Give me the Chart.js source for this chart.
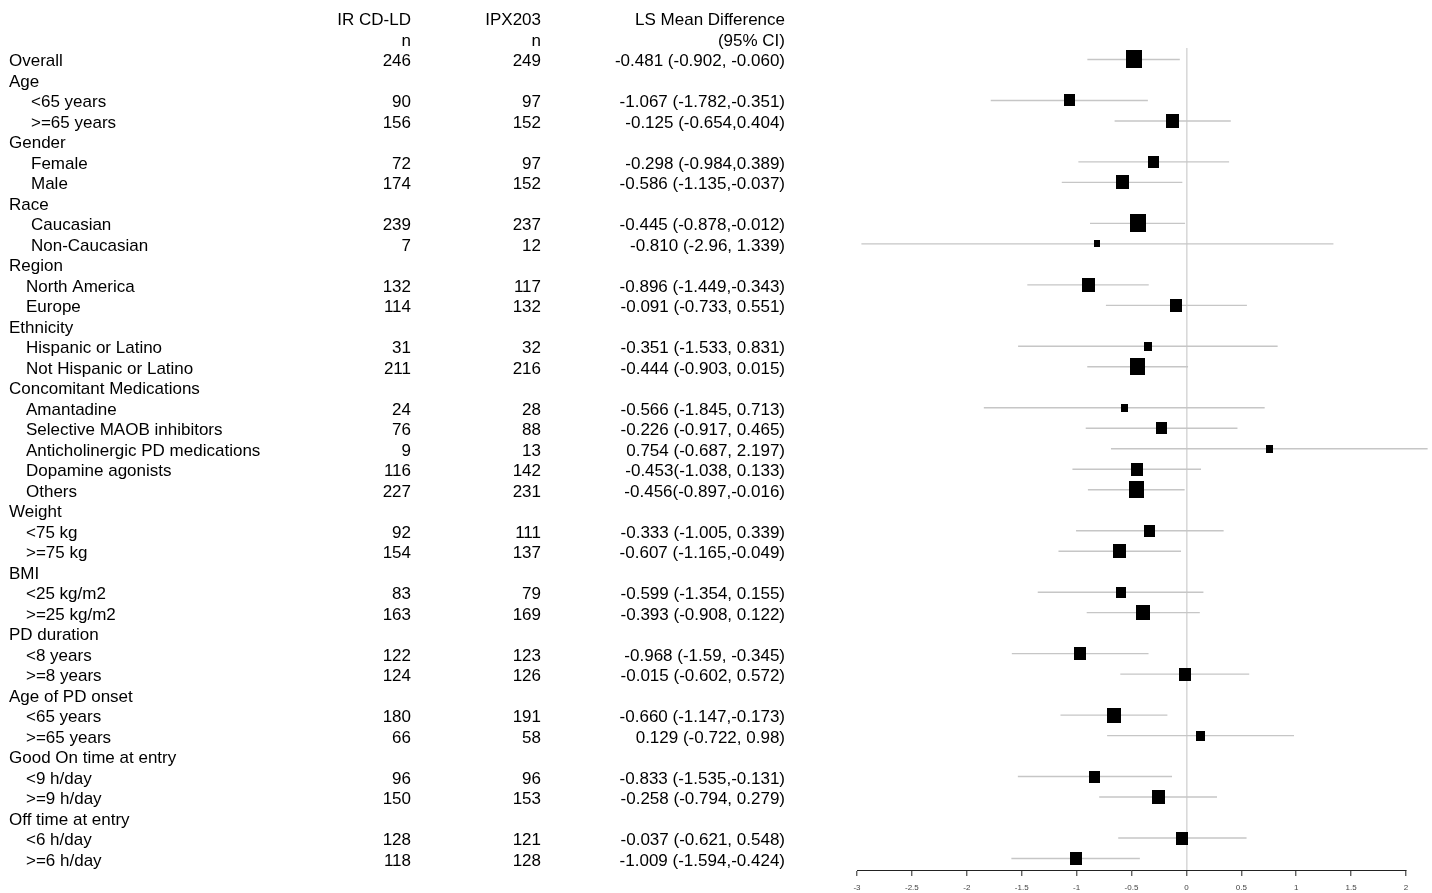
<!DOCTYPE html>
<html>
<head>
<meta charset="utf-8">
<title>LS Mean Difference by Subgroup</title>
<script src="https://cdn.jsdelivr.net/npm/chart.js@4/dist/chart.umd.min.js"></script>
<style>
  html, body { margin: 0; padding: 0; background: #fff; }
  #wrap { position: relative; width: 1432px; height: 893px; }
  canvas { display: block; }
</style>
</head>
<body>
<div id="wrap"><canvas id="forest" width="1432" height="893"></canvas></div>
<script>
// Row labels: group headings carry no counts (null) in the columns below.
const rowLabels = [
  'Overall', 'Age', '<65 years', '>=65 years', 'Gender', 'Female', 'Male',
  'Race', 'Caucasian', 'Non-Caucasian', 'Region', 'North America', 'Europe',
  'Ethnicity', 'Hispanic or Latino', 'Not Hispanic or Latino',
  'Concomitant Medications', 'Amantadine', 'Selective MAOB inhibitors',
  'Anticholinergic PD medications', 'Dopamine agonists', 'Others',
  'Weight', '<75 kg', '>=75 kg', 'BMI', '<25 kg/m2', '>=25 kg/m2',
  'PD duration', '<8 years', '>=8 years', 'Age of PD onset', '<65 years', '>=65 years',
  'Good On time at entry', '<9 h/day', '>=9 h/day', 'Off time at entry', '<6 h/day', '>=6 h/day'
];

// Patients per arm
const nIRCDLD = [246, null, 90, 156, null, 72, 174, null, 239, 7, null, 132, 114,
  null, 31, 211, null, 24, 76, 9, 116, 227, null, 92, 154, null, 83, 163,
  null, 122, 124, null, 180, 66, null, 96, 150, null, 128, 118];
const nIPX203 = [249, null, 97, 152, null, 97, 152, null, 237, 12, null, 117, 132,
  null, 32, 216, null, 28, 88, 13, 142, 231, null, 111, 137, null, 79, 169,
  null, 123, 126, null, 191, 58, null, 96, 153, null, 121, 128];

// LS mean difference and 95% confidence limits
const lsMeanDiff = [-0.481, null, -1.067, -0.125, null, -0.298, -0.586, null, -0.445, -0.810, null, -0.896, -0.091,
  null, -0.351, -0.444, null, -0.566, -0.226, 0.754, -0.453, -0.456, null, -0.333, -0.607, null, -0.599, -0.393,
  null, -0.968, -0.015, null, -0.660, 0.129, null, -0.833, -0.258, null, -0.037, -1.009];
const lowerCI = [-0.902, null, -1.782, -0.654, null, -0.984, -1.135, null, -0.878, -2.96, null, -1.449, -0.733,
  null, -1.533, -0.903, null, -1.845, -0.917, -0.687, -1.038, -0.897, null, -1.005, -1.165, null, -1.354, -0.908,
  null, -1.59, -0.602, null, -1.147, -0.722, null, -1.535, -0.794, null, -0.621, -1.594];
const upperCI = [-0.060, null, -0.351, 0.404, null, 0.389, -0.037, null, -0.012, 1.339, null, -0.343, 0.551,
  null, 0.831, 0.015, null, 0.713, 0.465, 2.197, 0.133, -0.016, null, 0.339, -0.049, null, 0.155, 0.122,
  null, -0.345, 0.572, null, -0.173, 0.98, null, -0.131, 0.279, null, 0.548, -0.424];

// Printed estimate column
const ciText = [
  '-0.481 (-0.902, -0.060)', '', '-1.067 (-1.782,-0.351)', '-0.125 (-0.654,0.404)', '',
  '-0.298 (-0.984,0.389)', '-0.586 (-1.135,-0.037)', '', '-0.445 (-0.878,-0.012)', '-0.810 (-2.96, 1.339)', '',
  '-0.896 (-1.449,-0.343)', '-0.091 (-0.733, 0.551)', '', '-0.351 (-1.533, 0.831)', '-0.444 (-0.903, 0.015)', '',
  '-0.566 (-1.845, 0.713)', '-0.226 (-0.917, 0.465)', '0.754 (-0.687, 2.197)', '-0.453(-1.038, 0.133)',
  '-0.456(-0.897,-0.016)', '', '-0.333 (-1.005, 0.339)', '-0.607 (-1.165,-0.049)', '',
  '-0.599 (-1.354, 0.155)', '-0.393 (-0.908, 0.122)', '', '-0.968 (-1.59, -0.345)', '-0.015 (-0.602, 0.572)', '',
  '-0.660 (-1.147,-0.173)', '0.129 (-0.722, 0.98)', '', '-0.833 (-1.535,-0.131)', '-0.258 (-0.794, 0.279)', '',
  '-0.037 (-0.621, 0.548)', '-1.009 (-1.594,-0.424)'
];

// Axis ticks
const xTicks = [-3, -2.5, -2, -1.5, -1, -0.5, 0, 0.5, 1, 1.5, 2];

// Column headings
const headings = [
  ['IR CD-LD', 'n'],
  ['IPX203', 'n'],
  ['LS Mean Difference', '(95% CI)']
];

// ---- build datasets ----
const ciSegments = [];
const estimatePoints = [];
const markerStyles = [];

function squareMarker(ciWidth) {
  // more precise estimates get larger boxes
  const w = Math.round(3 + 11 / ciWidth);
  const h = Math.round(w * 1.1);
  const c = document.createElement('canvas');
  c.width = w; c.height = h;
  const g = c.getContext('2d');
  g.fillStyle = '#000';
  g.fillRect(0, 0, w, h);
  return c;
}

rowLabels.forEach((_, i) => {
  if (lsMeanDiff[i] === null) return;
  ciSegments.push({ x: lowerCI[i], y: i }, { x: upperCI[i], y: i }, { x: null, y: null });
  estimatePoints.push({ x: lsMeanDiff[i], y: i });
  markerStyles.push(squareMarker(upperCI[i] - lowerCI[i]));
});

// ---- table text drawn beside the plot ----
const FONT = '17px "Liberation Sans", Arial, Helvetica, sans-serif';
const wideIndentGroups = new Set(['Age', 'Gender', 'Race']);
const colRight = [411, 541, 785];

const tablePlugin = {
  id: 'subgroupTable',
  afterDraw(chart) {
    const ctx = chart.ctx;
    const y = chart.scales.y;
    const rowY = (i) => y.getPixelForValue(i) + 2.3;
    ctx.save();
    ctx.font = FONT;
    ctx.fillStyle = '#000';
    ctx.textBaseline = 'middle';

    ctx.textAlign = 'right';
    headings.forEach((lines, c) => {
      lines.forEach((t, k) => ctx.fillText(t, colRight[c], rowY(k - 2)));
    });

    let group = '';
    rowLabels.forEach((label, i) => {
      const isHeading = nIRCDLD[i] === null;
      if (isHeading) group = label;
      let x = 9;
      if (!isHeading && i > 0) x = wideIndentGroups.has(group) ? 31 : 26;
      ctx.textAlign = 'left';
      ctx.fillText(label, x, rowY(i));
      if (!isHeading) {
        ctx.textAlign = 'right';
        ctx.fillText(String(nIRCDLD[i]), colRight[0], rowY(i));
        ctx.fillText(String(nIPX203[i]), colRight[1], rowY(i));
        ctx.fillText(ciText[i], colRight[2], rowY(i));
      }
    });
    ctx.restore();
  }
};

new Chart(document.getElementById('forest'), {
  data: {
    datasets: [
      {
        type: 'scatter',
        data: estimatePoints,
        pointStyle: markerStyles,
        pointRadius: 5,
        pointHoverRadius: 5,
        order: 0,
        clip: false
      },
      {
        type: 'line',
        data: ciSegments,
        borderColor: '#c6c6c6',
        borderWidth: 1.4,
        pointRadius: 0,
        spanGaps: false,
        tension: 0,
        order: 1,
        clip: false
      }
    ]
  },
  plugins: [tablePlugin],
  options: {
    responsive: false,
    devicePixelRatio: 1,
    animation: false,
    events: [],
    layout: { padding: { left: 857, right: 26, top: 48, bottom: 0 } },
    plugins: { legend: { display: false }, tooltip: { enabled: false } },
    scales: {
      x: {
        type: 'linear',
        position: 'bottom',
        min: xTicks[0],
        max: xTicks[xTicks.length - 1],
        afterBuildTicks(scale) { scale.ticks = xTicks.map(v => ({ value: v })); },
        afterFit(scale) { scale.height = 23; },
        ticks: {
          color: '#444',
          padding: 7,
          font: { size: 8, family: '"Liberation Sans", Arial, sans-serif' },
          maxRotation: 0,
          autoSkip: false,
          callback: (v) => String(v)
        },
        grid: {
          drawOnChartArea: true,
          color: (ctx) => (ctx.tick && ctx.tick.value === 0 ? '#d9d9d9' : 'rgba(0,0,0,0)'),
          lineWidth: 1.6,
          tickColor: '#222',
          tickLength: 6,
          tickWidth: 1
        },
        border: { display: true, color: '#222', width: 1 }
      },
      y: {
        type: 'linear',
        display: false,
        reverse: true,
        min: -0.56,
        max: 39.56
      }
    }
  }
});
</script>
</body>
</html>
